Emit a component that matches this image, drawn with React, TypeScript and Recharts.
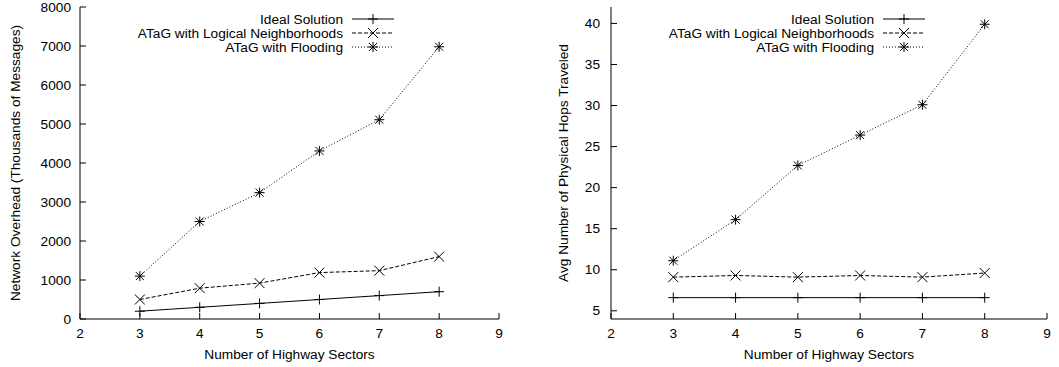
import React from "react";
import { LineChart, Line, XAxis, YAxis, Legend } from "recharts";

const sectors = [3, 4, 5, 6, 7, 8];
const overheadIdeal = [200, 300, 400, 500, 600, 700];
const overheadLogical = [500, 790, 920, 1190, 1240, 1600];
const overheadFlooding = [1100, 2500, 3240, 4310, 5110, 6980];
const hopsIdeal = [6.6, 6.6, 6.6, 6.6, 6.6, 6.6];
const hopsLogical = [9.1, 9.3, 9.1, 9.3, 9.1, 9.6];
const hopsFlooding = [11.1, 16.1, 22.7, 26.4, 30.1, 39.9];

const xTicks = [2, 3, 4, 5, 6, 7, 8, 9];
const overheadTicks = [0, 1000, 2000, 3000, 4000, 5000, 6000, 7000, 8000];
const hopsTicks = [5, 10, 15, 20, 25, 30, 35, 40];

const seriesNames = ["Ideal Solution", "ATaG with Logical Neighborhoods", "ATaG with Flooding"];

const FONT = "'Liberation Sans', Arial, Helvetica, sans-serif";
const FS = 13.7;
const TL = 6;

const buildData = (a: number[], b: number[], c: number[]) =>
  sectors.map((s, i) => ({ x: s, ideal: a[i], logical: b[i], flooding: c[i] }));

const overheadData = buildData(overheadIdeal, overheadLogical, overheadFlooding);
const hopsData = buildData(hopsIdeal, hopsLogical, hopsFlooding);

const markerPath = (kind: string, cx: number, cy: number) => {
  const r = 5;
  const d = 4;
  const plus = `M${cx - r},${cy}h${2 * r}M${cx},${cy - r}v${2 * r}`;
  const cross = `M${cx - d},${cy - d}l${2 * d},${2 * d}M${cx + d},${cy - d}l${-2 * d},${2 * d}`;
  if (kind === "plus") return plus;
  if (kind === "cross") return `M${cx - r},${cy - r}l${2 * r},${2 * r}M${cx + r},${cy - r}l${-2 * r},${2 * r}`;
  return plus + cross;
};

const makeDot = (kind: string) => (props: any) => {
  const { cx, cy, index } = props;
  if (cx == null || cy == null) return <g key={index} />;
  return <path key={index} d={markerPath(kind, cx, cy)} stroke="#000" strokeWidth={1} fill="none" />;
};

const styles = [
  { key: "ideal", dash: undefined as string | undefined, kind: "plus" },
  { key: "logical", dash: "4 2", kind: "cross" },
  { key: "flooding", dash: "1 2", kind: "star" },
];

const XTickBottom = (props: any) => {
  const { x, y, payload } = props;
  return (
    <g>
      <line x1={x} y1={y} x2={x} y2={y - TL} stroke="#000" />
      <text x={x} y={y + 14} textAnchor="middle" dominantBaseline="central" fontFamily={FONT} fontSize={FS} fill="#000">
        {payload.value}
      </text>
    </g>
  );
};
const XTickTop = (props: any) => {
  const { x, y } = props;
  return <line x1={x} y1={y} x2={x} y2={y + TL} stroke="#000" />;
};
const makeYTickLeft = (gap: number) => (props: any) => {
  const { x, y, payload } = props;
  return (
    <g>
      <line x1={x} y1={y} x2={x + TL} y2={y} stroke="#000" />
      <text x={x - gap} y={y} textAnchor="end" dominantBaseline="central" fontFamily={FONT} fontSize={FS} fill="#000">
        {payload.value}
      </text>
    </g>
  );
};
const YTickRight = (props: any) => {
  const { x, y } = props;
  return <line x1={x} y1={y} x2={x - TL} y2={y} stroke="#000" />;
};

const makeLegend = (textEnd: number) => () => (
  <svg width={530} height={60} style={{ display: "block" }}>
    {seriesNames.map((name, i) => {
      const y = 19 + i * 14;
      const st = styles[i];
      return (
        <g key={name}>
          <text x={textEnd} y={y} textAnchor="end" dominantBaseline="central" fontFamily={FONT} fontSize={FS} fill="#000">
            {name}
          </text>
          <line x1={textEnd + 9} y1={y} x2={textEnd + 51} y2={y} stroke="#000" strokeDasharray={st.dash} />
          <path d={markerPath(st.kind, textEnd + 30, y)} stroke="#000" fill="none" />
        </g>
      );
    })}
  </svg>
);

const makeYLabel = (text: string, cxOffset: number) => (props: any) => {
  const vb = props.viewBox || {};
  const cx = cxOffset;
  const cy = (vb.y ?? 0) + (vb.height ?? 0) / 2;
  return (
    <text x={cx} y={cy} transform={`rotate(-90 ${cx} ${cy})`} textAnchor="middle" dominantBaseline="central" fontFamily={FONT} fontSize={FS} fill="#000">
      {text}
    </text>
  );
};
const XLabel = (props: any) => {
  const vb = props.viewBox || {};
  const cx = (vb.x ?? 0) + (vb.width ?? 0) / 2;
  return (
    <text x={cx} y={354} textAnchor="middle" dominantBaseline="central" fontFamily={FONT} fontSize={FS} fill="#000">
      Number of Highway Sectors
    </text>
  );
};

type PanelProps = {
  data: any[];
  width: number;
  yWidth: number;
  right: number;
  domain: [number, number];
  ticks: number[];
  ylabel: string;
  ylabelX: number;
  tickGap: number;
  legendEnd: number;
};

const Panel = ({ data, width, yWidth, right, domain, ticks, ylabel, ylabelX, tickGap, legendEnd }: PanelProps) => (
  <LineChart width={width} height={367} data={data} margin={{ top: 7, right, bottom: 18, left: 0 }}>
    <XAxis
      dataKey="x"
      type="number"
      domain={[2, 9]}
      ticks={xTicks}
      interval={0}
      tickSize={0}
      tickMargin={0}
      tickLine={false}
      height={30}
      axisLine={{ stroke: "#000" }}
      tick={<XTickBottom />}
      label={<XLabel />}
    />
    <XAxis
      xAxisId="top"
      orientation="top"
      dataKey="x"
      type="number"
      domain={[2, 9]}
      ticks={xTicks}
      interval={0}
      tickSize={0}
      tickMargin={0}
      tickLine={false}
      height={0}
      axisLine={{ stroke: "#000" }}
      tick={<XTickTop />}
    />
    <YAxis
      type="number"
      domain={domain}
      ticks={ticks}
      interval={0}
      allowDataOverflow
      tickSize={0}
      tickMargin={0}
      tickLine={false}
      width={yWidth}
      axisLine={{ stroke: "#000" }}
      tick={makeYTickLeft(tickGap)}
      label={makeYLabel(ylabel, ylabelX)}
    />
    <YAxis
      yAxisId="right"
      orientation="right"
      type="number"
      domain={domain}
      ticks={ticks}
      interval={0}
      allowDataOverflow
      tickSize={0}
      tickMargin={0}
      tickLine={false}
      width={0}
      axisLine={{ stroke: "#000" }}
      tick={<YTickRight />}
    />
    <Legend
      layout="vertical"
      align="center"
      verticalAlign="middle"
      wrapperStyle={{ left: 0, top: 0, width: 530, height: 60 }}
      content={makeLegend(legendEnd)}
    />
    {styles.map((st) => (
      <Line
        key={st.key}
        dataKey={st.key}
        stroke="#000"
        strokeWidth={1}
        strokeDasharray={st.dash}
        dot={makeDot(st.kind)}
        activeDot={false}
        isAnimationActive={false}
        type="linear"
      />
    ))}
  </LineChart>
);

export default function App() {
  return (
    <div style={{ position: "absolute", left: 0, top: 0, width: 1059, height: 367, background: "#fff", display: "flex" }}>
      <div style={{ width: 530, height: 367, position: "relative" }}>
        <Panel
          data={overheadData}
          width={530}
          yWidth={80}
          right={31}
          domain={[0, 8000]}
          ticks={overheadTicks}
          ylabel="Network Overhead (Thousands of Messages)"
          ylabelX={15}
          tickGap={9}
          legendEnd={343}
        />
      </div>
      <div style={{ width: 529, height: 367, position: "relative" }}>
        <Panel
          data={hopsData}
          width={529}
          yWidth={81}
          right={12}
          domain={[4, 42]}
          ticks={hopsTicks}
          ylabel="Avg Number of Physical Hops Traveled"
          ylabelX={33}
          tickGap={11}
          legendEnd={344}
        />
      </div>
    </div>
  );
}
